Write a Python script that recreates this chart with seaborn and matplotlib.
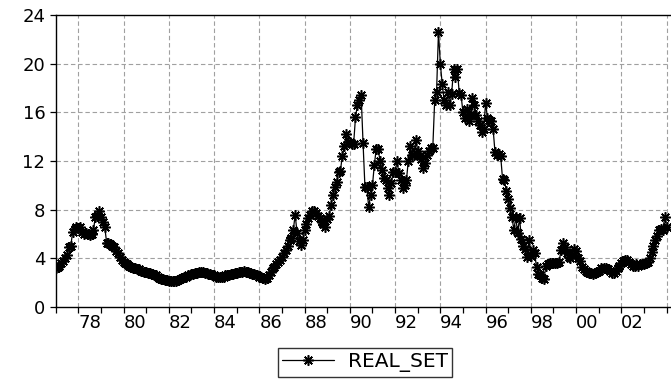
import matplotlib
matplotlib.use("Agg")
import matplotlib.pyplot as plt
import seaborn as sns
import pandas as pd
import numpy as np

# ---- data (monthly, 1977M01 - 2004M01) ----
y1977 = [3.2, 3.3, 3.4, 3.6, 3.8, 4.0, 4.3, 4.9, 5.0, 6.2, 6.4, 6.6]
y1978 = [6.5, 6.6, 6.2, 6.0, 6.1, 6.0, 5.9, 6.0, 6.3, 7.4, 7.5, 7.9]
y1979 = [7.4, 7.0, 6.6, 5.3, 5.3, 5.2, 5.0, 4.9, 4.6, 4.4, 4.1, 3.9]
y1980 = [3.7, 3.6, 3.5, 3.4, 3.3, 3.2, 3.2, 3.1, 3.1, 3.0, 3.0, 2.9]
y1981 = [2.9, 2.8, 2.8, 2.7, 2.6, 2.6, 2.5, 2.4, 2.3, 2.3, 2.2, 2.2]
y1982 = [2.1, 2.1, 2.1, 2.1, 2.1, 2.2, 2.3, 2.4, 2.5, 2.5, 2.6, 2.6]
y1983 = [2.7, 2.7, 2.8, 2.8, 2.9, 2.9, 2.9, 2.8, 2.8, 2.7, 2.7, 2.6]
y1984 = [2.6, 2.5, 2.5, 2.5, 2.5, 2.5, 2.6, 2.6, 2.6, 2.7, 2.7, 2.8]
y1985 = [2.8, 2.9, 2.9, 2.9, 3.0, 2.9, 2.9, 2.8, 2.7, 2.7, 2.6, 2.6]
y1986 = [2.5, 2.5, 2.4, 2.3, 2.4, 2.6, 2.9, 3.2, 3.3, 3.5, 3.7, 3.9]
y1987 = [4.1, 4.4, 4.7, 5.0, 5.5, 5.7, 6.3, 7.6, 6.1, 5.4, 5.1, 5.5]
y1988 = [6.3, 6.8, 7.3, 7.6, 7.9, 7.9, 7.7, 7.5, 7.3, 7.0, 6.8, 6.6]
y1989 = [7.2, 7.5, 8.4, 9.2, 9.9, 10.3, 11.1, 11.2, 12.4, 13.2, 14.2, 13.6]
y1990 = [13.6, 13.4, 13.4, 15.6, 16.6, 17.0, 17.4, 13.5, 9.9, 9.9, 8.2, 9.2]
y1991 = [10.0, 11.7, 13.0, 13.0, 12.0, 11.3, 10.6, 10.4, 9.8, 9.2, 10.2, 11.1]
y1992 = [11.1, 12.0, 11.0, 10.4, 9.8, 10.0, 10.4, 12.0, 13.2, 12.5, 12.5, 13.7]
y1993 = [12.8, 12.4, 12.2, 11.4, 11.8, 12.5, 12.8, 13.1, 13.1, 17.0, 17.7, 22.6]
y1994 = [20.0, 18.3, 17.0, 16.6, 17.7, 16.6, 17.5, 19.6, 18.9, 19.6, 17.6, 17.4]
y1995 = [16.0, 15.5, 16.3, 15.3, 15.8, 17.2, 16.6, 15.8, 15.3, 15.0, 14.4, 14.6]
y1996 = [16.8, 15.5, 15.4, 15.3, 14.6, 12.7, 12.5, 12.6, 12.4, 10.5, 10.4, 9.5]
y1997 = [8.9, 8.1, 7.4, 6.3, 7.4, 6.1, 7.3, 5.6, 5.0, 4.8, 4.1, 5.5]
y1998 = [4.2, 4.7, 4.4, 3.3, 2.7, 2.6, 2.4, 2.3, 3.4, 3.5, 3.6, 3.6]
y1999 = [3.6, 3.6, 3.6, 3.7, 4.7, 5.3, 4.9, 4.4, 4.1, 4.0, 4.3, 4.8]
y2000 = [4.6, 4.0, 3.8, 3.3, 3.1, 3.0, 2.9, 2.8, 2.8, 2.7, 2.8, 2.9]
y2001 = [3.0, 3.2, 3.1, 3.2, 3.2, 3.1, 3.0, 2.8, 2.8, 3.0, 3.2, 3.4]
y2002 = [3.6, 3.8, 3.9, 3.9, 3.7, 3.5, 3.4, 3.4, 3.5, 3.4, 3.5, 3.5]
y2003 = [3.5, 3.6, 3.7, 4.0, 4.5, 5.0, 5.5, 5.8, 6.3, 6.4, 6.3, 7.4]
y2004 = [6.6]

series_name = "REAL_SET"
x_label_years = list(range(1978, 2004, 2))
x_label_text = ["78", "80", "82", "84", "86", "88", "90", "92", "94", "96", "98", "00", "02"]
y_ticks = [0, 4, 8, 12, 16, 20, 24]

real_set = (y1977 + y1978 + y1979 + y1980 + y1981 + y1982 + y1983 + y1984 + y1985
            + y1986 + y1987 + y1988 + y1989 + y1990 + y1991 + y1992 + y1993 + y1994
            + y1995 + y1996 + y1997 + y1998 + y1999 + y2000 + y2001 + y2002 + y2003 + y2004)
dates = pd.date_range("1977-01-01", periods=len(real_set), freq="MS")
df = pd.DataFrame({"t": dates.year + (dates.month - 1) / 12.0, series_name: real_set})

# ---- style ----
sns.set_style("ticks")
plt.rcParams["font.family"] = ["DejaVu Sans"]
plt.rcParams["text.color"] = "black"

fig = plt.figure(figsize=(6.71, 3.79), dpi=100)
ax = fig.add_axes([55.7 / 671, (379 - 307) / 379, (670 - 55.7) / 671, (307 - 15) / 379])

sns.lineplot(data=df, x="t", y=series_name, ax=ax, color="black", linewidth=0.9,
             marker=(8, 2, 0), markersize=7.5, markeredgewidth=1.15,
             markeredgecolor="black", label=series_name, legend=False)

ax.set_xlim(1977, 2004.15)
ax.set_ylim(0, 24)
ax.set_xlabel("")
ax.set_ylabel("")

# grid lines (dashed grey) at even years and y ticks
for yr in x_label_years + [2004]:
    ax.axvline(yr, color="#a0a0a0", linestyle=(0, (4, 2.5)), linewidth=0.8, zorder=0)
for yv in y_ticks[1:-1]:
    ax.axhline(yv, color="#a0a0a0", linestyle=(0, (4, 2.5)), linewidth=0.8, zorder=0)

# x ticks: marks every year, labels centred within even years
ax.set_xticks(list(range(1977, 2005)))
ax.set_xticklabels([])
ax.set_xticks([y + 0.5 for y in x_label_years], minor=True)
ax.set_xticklabels(x_label_text, minor=True)
ax.tick_params(axis="x", which="major", direction="out", length=4.5, width=0.9, color="black")
ax.tick_params(axis="x", which="minor", length=0, pad=5, labelsize=13, labelcolor="black")

ax.set_yticks(y_ticks)
ax.set_yticklabels([str(v) for v in y_ticks])
ax.tick_params(axis="y", direction="out", length=4.5, width=0.9, pad=3, labelsize=13,
               color="black", labelcolor="black")

for side in ["left", "bottom", "top"]:
    ax.spines[side].set_visible(True)
    ax.spines[side].set_color("black")
    ax.spines[side].set_linewidth(1.0)
ax.spines["right"].set_visible(False)

handles, labels = ax.get_legend_handles_labels()
leg = fig.legend(handles, labels, loc="center", bbox_to_anchor=(365 / 671, (379 - 362.5) / 379),
                 frameon=True, fancybox=False, edgecolor="black", fontsize=14.5,
                 handlelength=2.6, handletextpad=0.7, borderpad=0.2, borderaxespad=0,
                 labelcolor="black")
leg.get_frame().set_linewidth(1.0)

fig.savefig("out.png", dpi=100)
